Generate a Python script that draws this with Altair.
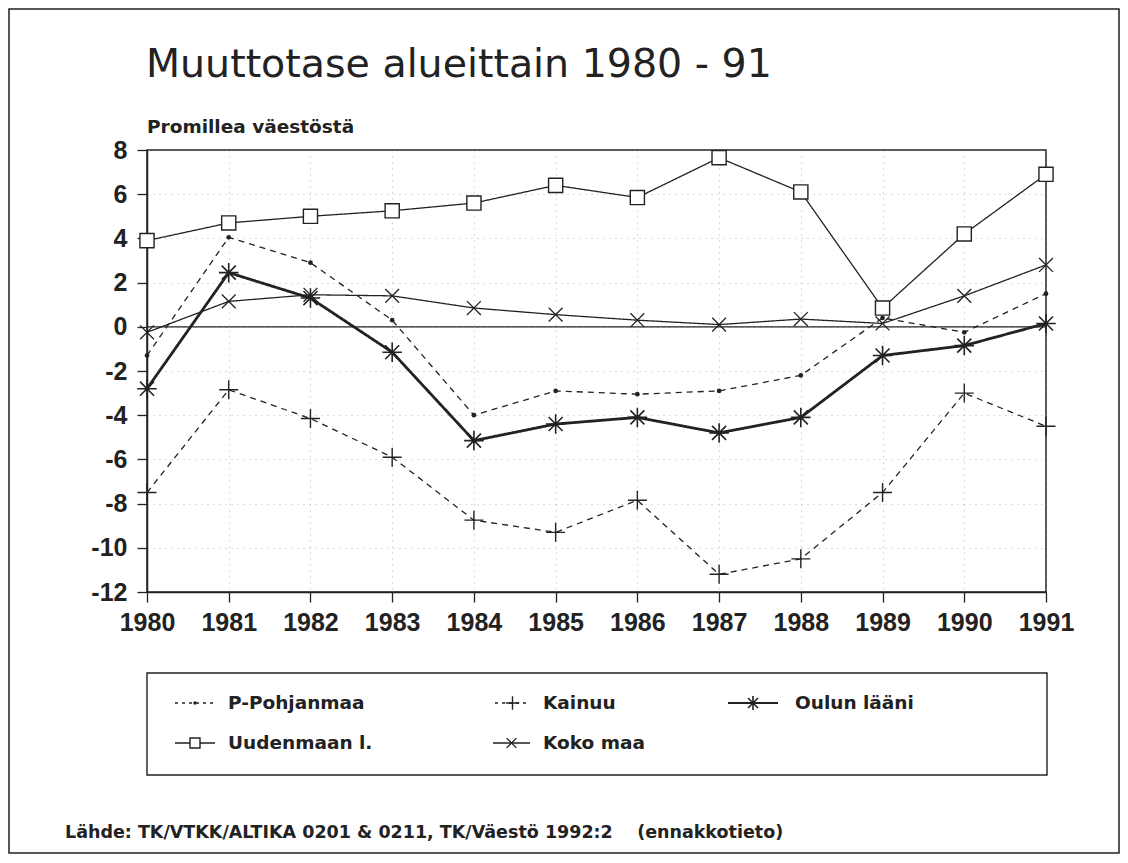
import altair as alt
import pandas as pd

years = [1980, 1981, 1982, 1983, 1984, 1985, 1986, 1987, 1988, 1989, 1990, 1991]
p_pohjanmaa = [-1.3, 4.05, 2.9, 0.3, -4.0, -2.9, -3.05, -2.9, -2.2, 0.4, -0.25, 1.5]
kainuu = [-7.5, -2.85, -4.15, -5.9, -8.75, -9.3, -7.85, -11.2, -10.5, -7.5, -3.0, -4.5]
oulun_laani = [-2.8, 2.45, 1.3, -1.15, -5.15, -4.4, -4.1, -4.8, -4.1, -1.3, -0.85, 0.15]
uudenmaan = [3.9, 4.7, 5.0, 5.25, 5.6, 6.4, 5.85, 7.65, 6.1, 0.85, 4.2, 6.9]
koko_maa = [-0.25, 1.15, 1.45, 1.4, 0.85, 0.55, 0.3, 0.1, 0.35, 0.15, 1.4, 2.8]

series_names = ["P-Pohjanmaa", "Kainuu", "Oulun lääni", "Uudenmaan l.", "Koko maa"]
series_values = [p_pohjanmaa, kainuu, oulun_laani, uudenmaan, koko_maa]
y_ticks = [-12, -10, -8, -6, -4, -2, 0, 2, 4, 6, 8]

title_text = "Muuttotase alueittain 1980 - 91"
subtitle_text = "Promillea väestöstä"
source_text = "Lähde: TK/VTKK/ALTIKA 0201 & 0211, TK/Väestö 1992:2\u00a0\u00a0\u00a0 (ennakkotieto)"

rows = []
for name, vals in zip(series_names, series_values):
    for yr, v in zip(years, vals):
        rows.append({"year": yr, "value": v, "series": name})
df = pd.DataFrame(rows)

INK = "#222222"
FONT = "Liberation Sans"
WIDE = "DejaVu Sans"
W, H = 899, 442

ASTER = "M-1,0L1,0M0,-1L0,1M-0.72,-0.72L0.72,0.72M-0.72,0.72L0.72,-0.72"
PLUS = "M-1,0L1,0M0,-1L0,1"
XMARK = "M-0.75,-0.75L0.75,0.75M-0.75,0.75L0.75,-0.75"

style = {
    "P-Pohjanmaa": dict(dash=[6, 5], sw=1.3, shape="circle", size=22, filled=True, msw=1),
    "Kainuu": dict(dash=[6, 5], sw=1.3, shape=PLUS, size=360, filled=False, msw=1.4),
    "Oulun lääni": dict(dash=[1, 0], sw=2.8, shape=ASTER, size=380, filled=False, msw=1.6),
    "Uudenmaan l.": dict(dash=[1, 0], sw=1.3, shape="square", size=200, filled=False, msw=1.4),
    "Koko maa": dict(dash=[1, 0], sw=1.3, shape=XMARK, size=340, filled=False, msw=1.3),
}

x_enc = alt.X("year:Q", scale=alt.Scale(domain=[1980, 1991], nice=False, zero=False),
              axis=alt.Axis(values=years, format="d", title=None, labelOverlap=False,
                            labelFlush=False, labelBound=False))
y_enc = alt.Y("value:Q", scale=alt.Scale(domain=[-12, 8], nice=False),
              axis=alt.Axis(values=y_ticks, format="d", title=None, labelOverlap=False,
                            labelFlush=False, labelBound=False,
                            labelExpr="replace(datum.label, '\u2212', '-')"))


def point_mark(chart, s, size):
    if s["filled"]:
        return chart.mark_point(shape=s["shape"], size=size, filled=True, color=INK, opacity=1)
    if s["shape"] == "square":
        return chart.mark_point(shape=s["shape"], size=size, filled=False, color=INK,
                                strokeWidth=s["msw"], fill="white", fillOpacity=1, opacity=1)
    return chart.mark_point(shape=s["shape"], size=size, filled=False, color=INK,
                            strokeWidth=s["msw"], opacity=1)


def text_layer(txt, x, y, font, size, weight):
    return alt.Chart(pd.DataFrame({"t": [txt]})).mark_text(
        align="left", baseline="alphabetic", font=font, fontSize=size, fontWeight=weight,
        color=INK).encode(x=alt.value(x), y=alt.value(y), text="t:N")


base = alt.Chart(df)
layers = []

zero = alt.Chart(pd.DataFrame({"value": [0]})).mark_rule(color=INK, strokeWidth=1.3).encode(
    y=alt.Y("value:Q", scale=alt.Scale(domain=[-12, 8], nice=False)))
layers.append(zero)

for name in series_names:
    s = style[name]
    sub = base.transform_filter(alt.datum.series == name)
    layers.append(sub.mark_line(color=INK, strokeWidth=s["sw"], strokeDash=s["dash"]).encode(
        x=x_enc, y=y_enc))
    layers.append(point_mark(sub, s, s["size"]).encode(x=x_enc, y=y_enc))

# legend box
layers.append(alt.Chart(pd.DataFrame({"a": [0]})).mark_rect(
    filled=False, stroke=INK, strokeWidth=1.4).encode(
    x=alt.value(0), x2=alt.value(900), y=alt.value(523), y2=alt.value(625)))

# legend entries: (series, line x0, line x1, text x, y)
legend_pos = [
    ("P-Pohjanmaa", 28, 68, 81, 553),
    ("Kainuu", 348, 383, 396, 553),
    ("Oulun lääni", 581, 631, 648, 553),
    ("Uudenmaan l.", 28, 68, 81, 593),
    ("Koko maa", 346, 383, 396, 593),
]
for name, x0, x1, tx, ty in legend_pos:
    s = style[name]
    ld = alt.Chart(pd.DataFrame({"series": [name]}))
    dash = [3, 4] if s["dash"] != [1, 0] else [1, 0]
    layers.append(ld.mark_rule(color=INK, strokeWidth=s["sw"] if s["sw"] < 2 else 2.2,
                               strokeDash=dash).encode(
        x=alt.value(x0), x2=alt.value(x1), y=alt.value(ty)))
    lsize = s["size"] * 0.5 if s["shape"] != "circle" else 12
    layers.append(point_mark(ld, s, lsize).encode(x=alt.value((x0 + x1) / 2), y=alt.value(ty)))
    layers.append(ld.mark_text(align="left", baseline="middle", font=WIDE, fontSize=18.5,
                               fontWeight="bold", color=INK).encode(
        x=alt.value(tx), y=alt.value(ty), text="series:N"))

# title, subtitle, source note
layers.append(text_layer(title_text, -1, -73, WIDE, 39.5, "normal"))
layers.append(text_layer(subtitle_text, 0, -17, WIDE, 18.5, "bold"))
layers.append(text_layer(source_text, -82, 688, WIDE, 17.5, "bold"))

# outer frame
layers.append(alt.Chart(pd.DataFrame({"a": [0]})).mark_rect(
    filled=False, stroke=INK, strokeWidth=1.5).encode(
    x=alt.value(-138), x2=alt.value(972), y=alt.value(-141), y2=alt.value(703)))

chart = alt.layer(*layers).properties(
    width=W, height=H,
    background="white",
    autosize=alt.AutoSizeParams(type="none"),
    padding={"left": 139, "top": 142, "right": 74, "bottom": 263},
).configure_view(
    stroke=INK, strokeWidth=1.5
).configure_axis(
    labelFont=FONT, labelFontSize=25, labelFontWeight="bold", labelColor=INK,
    domainColor=INK, domainWidth=1.5, tickColor=INK, tickWidth=1.3, tickSize=10,
    gridColor="#888888", gridDash=[1, 5], gridOpacity=0.6, gridWidth=1,
).configure_axisX(
    labelPadding=8,
).configure_axisY(
    labelPadding=10,
)

chart.save("out.html", embed_options={"renderer": "svg", "actions": False})
